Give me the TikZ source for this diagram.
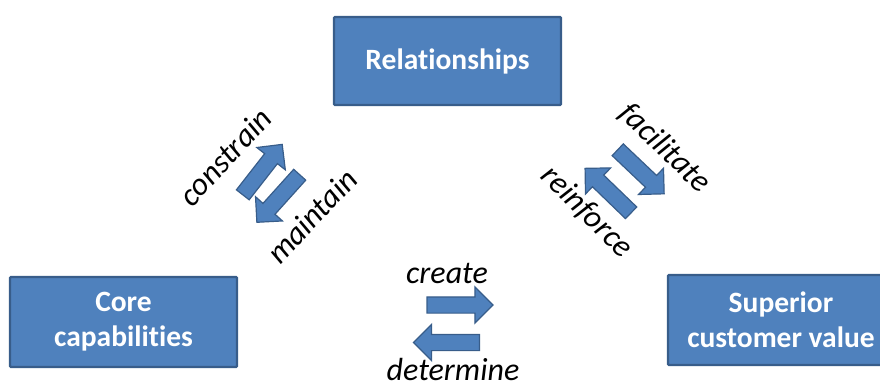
\documentclass[tikz,border=0pt]{standalone}
\usepackage{fontspec}
\setmainfont{Carlito}[Ligatures={NoCommon}]
\usetikzlibrary{shapes.arrows}
\definecolor{boxblue}{HTML}{4F81BD}
\definecolor{boxedge}{HTML}{385D8A}
\tikzset{
  block/.style={draw=boxedge, fill=boxblue, line width=2.2pt, rounded corners=1pt,
    text=white, align=center, inner sep=0pt,
    font=\bfseries\fontsize{29.5}{35}\selectfont},
  barrow/.style={single arrow, draw=boxedge, fill=boxblue, line width=1.2pt,
    inner xsep=0pt, inner ysep=7.5pt, single arrow head extend=10pt,
    single arrow tip angle=90, minimum height=64pt, anchor=center},
  verb/.style={font=\itshape\fontsize{32}{36}\selectfont, inner sep=0pt}
}
\begin{document}
\begin{tikzpicture}[x=1pt,y=-1pt]
\useasboundingbox (0,0) rectangle (880,385);

% the three boxes
\node[block, minimum width=227pt, minimum height=88pt] (rel) at (447.5,61) {Relationships};
\node[block, minimum width=227pt, minimum height=90pt] (core) at (123.5,322) {Core\\capabilities};
\node[block, minimum width=226pt, minimum height=90pt] (sup) at (781,320) {Superior\\customer value};

% block arrows between relationships and core capabilities
\node[barrow, rotate=52] (up) at (260,172.8) {};
\node[barrow, rotate=228] (down) at (281,195.5) {};
\node[verb, rotate=47] (constrain) at (225,157) {constrain};
\node[verb, rotate=47] (maintain) at (312,216) {maintain};

% block arrows between relationships and superior customer value
\node[barrow, rotate=-43.5] (fac) at (638,169) {};
\node[barrow, rotate=136] (rein) at (611,193.4) {};
\node[verb, rotate=-44] (facilitate) at (665,148) {facilitate};
\node[verb, rotate=-45] (reinforce) at (587,212) {reinforce};

% block arrows between the two lower boxes
\node[barrow, minimum height=66pt] (cr) at (456,305) {};
\node[barrow, minimum height=66pt, rotate=180] (det) at (450.5,342.5) {};
\node[verb, anchor=base] (create) at (447,283) {create};
\node[verb, anchor=base] (determine) at (453,380) {determine};
\end{tikzpicture}
\end{document}
